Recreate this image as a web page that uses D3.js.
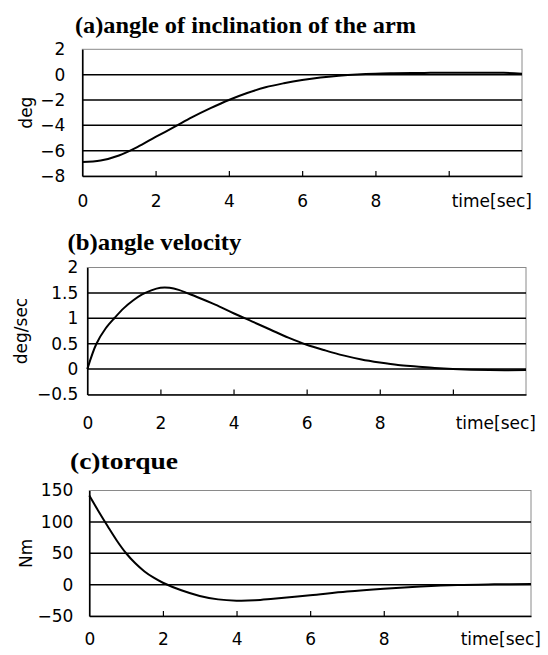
<!DOCTYPE html>
<html>
<head>
<meta charset="utf-8">
<script src="https://cdn.jsdelivr.net/npm/d3@7"></script>
<style>
  html, body { margin: 0; padding: 0; background: #fff; }
  svg { display: block; }
</style>
</head>
<body>
<div id="chart"></div>
<script>
// (a) angle of inclination of the arm [deg]
const timeA = [0, 0.5, 1, 1.5, 2, 2.5, 3, 3.5, 4, 4.5, 5, 5.5, 6, 6.5, 7, 7.5, 8, 8.5, 9, 9.5, 10, 10.5, 11, 11.5, 12];
const angle = [-6.9, -6.78, -6.38, -5.72, -4.92, -4.15, -3.36, -2.65, -2.0, -1.45, -1.0, -0.68, -0.42, -0.22, -0.08, 0.02, 0.08, 0.11, 0.13, 0.14, 0.15, 0.15, 0.15, 0.15, 0.08];

// (b) angle velocity [deg/sec]
const timeB = [0, 0.25, 0.5, 0.75, 1, 1.25, 1.5, 1.75, 2, 2.25, 2.5, 2.75, 3, 3.5, 4, 4.5, 5, 5.5, 6, 6.5, 7, 7.5, 8, 8.5, 9, 9.5, 10, 11, 12];
const velocity = [0, 0.5, 0.8, 1.01, 1.2, 1.35, 1.47, 1.55, 1.6, 1.6, 1.56, 1.49, 1.42, 1.27, 1.1, 0.94, 0.78, 0.62, 0.48, 0.37, 0.27, 0.19, 0.13, 0.08, 0.05, 0.02, 0, -0.02, -0.02];

// (c) torque [Nm]
const timeC = [0, 0.25, 0.5, 0.75, 1, 1.25, 1.5, 1.75, 2, 2.5, 3, 3.5, 4, 4.5, 5, 6, 7, 8, 9, 10, 11, 12];
const torque = [142, 117, 93, 70, 50, 34, 21, 11, 3, -9, -18, -23.5, -25.5, -25, -22.5, -17, -11, -6.5, -3, -0.5, 0.5, 1];

const xTicks = [0, 2, 4, 6, 8, 10];
const xLabels = ["0", "2", "4", "6", "8"];
const xTitle = "time[sec]";

const titles = ["(a)angle of inclination of the arm", "(b)angle velocity", "(c)torque"];
const yTitles = ["deg", "deg/sec", "Nm"];
const yTicksA = [-8, -6, -4, -2, 0, 2];
const yTicksB = [-0.5, 0, 0.5, 1, 1.5, 2];
const yTicksC = [-50, 0, 50, 100, 150];

const panels = [
  { t: timeA, v: angle, ticks: yTicksA, title: titles[0], yTitle: yTitles[0],
    left: 82.3, right: 522, top: 49.3, bottom: 176, labelGap: 17,
    titleX: 75, titleY: 33, titleW: 341, yTitleX: 26, xLabelY: 201 },
  { t: timeB, v: velocity, ticks: yTicksB, title: titles[1], yTitle: yTitles[1],
    left: 87.3, right: 526, top: 267.5, bottom: 394.5, labelGap: 9,
    titleX: 67.5, titleY: 250, titleW: 174, yTitleX: 21, xLabelY: 423 },
  { t: timeC, v: torque, ticks: yTicksC, title: titles[2], yTitle: yTitles[2],
    left: 89.3, right: 531, top: 490.5, bottom: 616, labelGap: 16,
    titleX: 70, titleY: 469, titleW: 108, yTitleX: 26, xLabelY: 639 },
];

const width = 548, height = 655;
const sans = "'DejaVu Sans', sans-serif";
const serif = "'Liberation Serif', 'Times New Roman', serif";

const svg = d3.select("#chart").append("svg")
  .attr("width", width)
  .attr("height", height);

function fmt(d) {
  return String(d).replace("-", "\u2212");
}

panels.forEach((p) => {
  const x = d3.scaleLinear().domain([0, 12]).range([p.left, p.right]);
  const y = d3.scaleLinear().domain(d3.extent(p.ticks)).range([p.bottom, p.top]);
  const g = svg.append("g");

  // title
  g.append("text")
    .attr("x", p.titleX)
    .attr("y", p.titleY)
    .attr("font-family", serif)
    .attr("font-weight", "bold")
    .attr("font-size", 23)
    .attr("textLength", p.titleW)
    .attr("lengthAdjust", "spacingAndGlyphs")
    .text(p.title);

  // frame (top and right are light)
  g.append("rect")
    .attr("x", x(0)).attr("y", y.range()[1])
    .attr("width", x(12) - x(0)).attr("height", y.range()[0] - y.range()[1])
    .attr("fill", "none")
    .attr("stroke", "#8a8a8a")
    .attr("stroke-width", 1);

  // grid lines
  g.append("g")
    .selectAll("line")
    .data(p.ticks.slice(1, -1))
    .join("line")
    .attr("x1", x(0)).attr("x2", x(12))
    .attr("y1", (d) => y(d)).attr("y2", (d) => y(d))
    .attr("stroke", "#000")
    .attr("stroke-width", 1.5);

  // y axis
  g.append("g")
    .attr("transform", `translate(${x(0)},0)`)
    .call(d3.axisLeft(y).tickValues(p.ticks).tickSize(0).tickPadding(p.labelGap).tickFormat(fmt))
    .call((a) => a.select(".domain").attr("stroke", "#000").attr("stroke-width", 1.6))
    .call((a) => a.selectAll("text")
      .attr("font-family", sans).attr("font-size", 17).attr("fill", "#000"));

  // x axis: inward ticks, labels placed below
  g.append("g")
    .attr("transform", `translate(0,${y.range()[0]})`)
    .call(d3.axisBottom(x).tickValues(xTicks).tickSizeInner(-5).tickSizeOuter(0)
      .tickPadding(p.xLabelY - y.range()[0] - 6).tickFormat((d, i) => xLabels[i] || ""))
    .call((a) => a.select(".domain").attr("stroke", "#000").attr("stroke-width", 1.6))
    .call((a) => a.selectAll(".tick line").attr("stroke", "#000").attr("stroke-width", 1.2))
    .call((a) => a.selectAll(".tick").filter((d) => d === 0).select("line").remove())
    .call((a) => a.selectAll("text")
      .attr("font-family", sans).attr("font-size", 17).attr("fill", "#000"));

  g.append("text")
    .attr("x", x(12) + 10)
    .attr("y", p.xLabelY + 6)
    .attr("text-anchor", "end")
    .attr("font-family", sans)
    .attr("font-size", 17)
    .text(xTitle);

  // y title
  g.append("text")
    .attr("transform", `translate(${p.yTitleX},${(y.range()[0] + y.range()[1]) / 2}) rotate(-90)`)
    .attr("text-anchor", "middle")
    .attr("dy", "0.35em")
    .attr("font-family", sans)
    .attr("font-size", 17)
    .text(p.yTitle);

  // curve
  const line = d3.line()
    .x((d, i) => x(p.t[i]))
    .y((d) => y(d))
    .curve(d3.curveCatmullRom.alpha(0.5));

  g.append("path")
    .datum(p.v)
    .attr("fill", "none")
    .attr("stroke", "#000")
    .attr("stroke-width", 2)
    .attr("d", line);
});
</script>
</body>
</html>
